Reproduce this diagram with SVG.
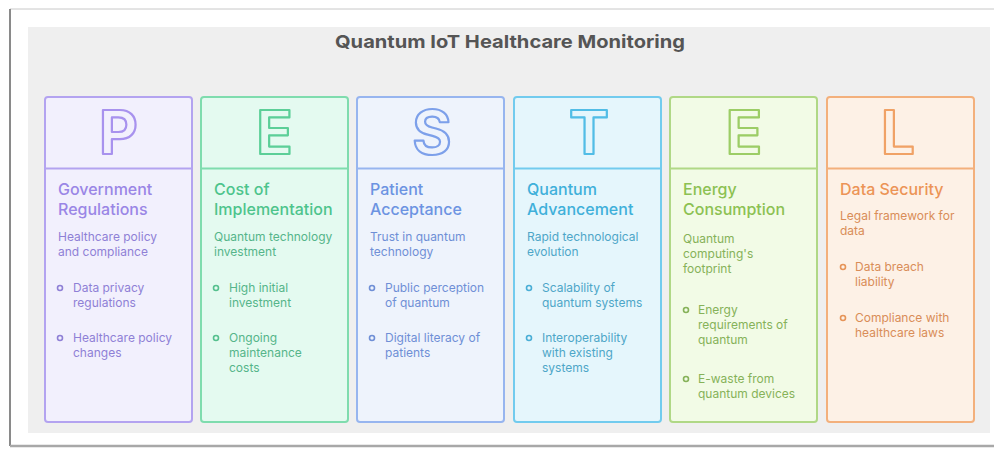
<svg xmlns="http://www.w3.org/2000/svg" width="994" height="451" viewBox="0 0 994 451">
<style>
.t{font-family:Inter,"Liberation Sans",sans-serif;font-size:16px;font-weight:500}
.b{font-family:Inter,"Liberation Sans",sans-serif;font-size:12px}
.L{font-family:Inter,"Liberation Sans",sans-serif;font-size:60px;font-weight:700;stroke-width:2.2;text-anchor:middle;stroke-linejoin:round}
.box{stroke-width:2}
.dot{fill:none;stroke-width:1.6}
.p .box,.p .dv{stroke:#b3a3f0}.p .box{fill:#f2f0fd}.p .L{fill:#f2f0fd;stroke:#a892ee}.p text.t{fill:#9a86e6}.p text.b{fill:#8f80d6}.p .dot{stroke:#8f80d6}
.g .box,.g .dv{stroke:#7fdcae}.g .box{fill:#e4faf0}.g .L{fill:#e4faf0;stroke:#5ccf98}.g text.t{fill:#4dc48c}.g text.b{fill:#55b58a}.g .dot{stroke:#55c08e}
.s .box,.s .dv{stroke:#97b5ef}.s .box{fill:#eef3fc}.s .L{fill:#eef3fc;stroke:#7da0ea}.s text.t{fill:#6c93e2}.s text.b{fill:#6f8fd6}.s .dot{stroke:#6f8fd6}
.c .box,.c .dv{stroke:#72cbee}.c .box{fill:#e5f6fc}.c .L{fill:#e5f6fc;stroke:#52bde6}.c text.t{fill:#3fb0da}.c text.b{fill:#4ea6c8}.c .dot{stroke:#4aaed6}
.y .box,.y .dv{stroke:#b0d886}.y .box{fill:#f2fbe6}.y .L{fill:#f2fbe6;stroke:#9ccd66}.y text.t{fill:#8cc152}.y text.b{fill:#86b259}.y .dot{stroke:#86b259}
.o .box,.o .dv{stroke:#f3b07c}.o .box{fill:#fdf1e6}.o .L{fill:#fdf1e6;stroke:#f0a266}.o text.t{fill:#ec9456}.o text.b{fill:#d98d58}.o .dot{stroke:#e69458}
.dv{stroke-width:2}
</style>
<rect width="994" height="451" fill="#ffffff"/>
<g id="frame">
<path d="M10 446 V9 H994" fill="none" stroke="#c8c8c8" stroke-width="1"/>
<path d="M10 9 V446" stroke="#8a8a8a" stroke-width="2"/>
<path d="M10 446 H994" stroke="#a8a8a8" stroke-width="2.5"/>
<rect x="28" y="27" width="962" height="406" fill="#efefef"/>
</g>
<text x="510" y="48" text-anchor="middle" font-family="Inter,'Liberation Sans',sans-serif" font-size="18" font-weight="700" fill="#555555" textLength="350" lengthAdjust="spacingAndGlyphs">Quantum IoT Healthcare Monitoring</text>

<g id="col-P" class="p">
<rect class="box" x="45" y="97" width="147" height="325" rx="3"/>
<line class="dv" x1="45" y1="168.5" x2="192" y2="168.5"/>
<text class="L" x="118.5" y="154">P</text>
<text class="t" x="58" y="195">Government</text><text class="t" x="58" y="215">Regulations</text>
<text class="b" x="58" y="241">Healthcare policy</text><text class="b" x="58" y="256">and compliance</text>
<circle class="dot" cx="60" cy="288" r="2.5"/>
<text class="b" x="73" y="292">Data privacy</text><text class="b" x="73" y="307">regulations</text>
<circle class="dot" cx="60" cy="338" r="2.5"/>
<text class="b" x="73" y="342">Healthcare policy</text><text class="b" x="73" y="357">changes</text>
</g>

<g id="col-E1" class="g">
<rect class="box" x="201" y="97" width="147" height="325" rx="3"/>
<line class="dv" x1="201" y1="168.5" x2="348" y2="168.5"/>
<text class="L" x="274.5" y="154">E</text>
<text class="t" x="214" y="195">Cost of</text><text class="t" x="214" y="215">Implementation</text>
<text class="b" x="214" y="241">Quantum technology</text><text class="b" x="214" y="256">investment</text>
<circle class="dot" cx="216" cy="288" r="2.5"/>
<text class="b" x="229" y="292">High initial</text><text class="b" x="229" y="307">investment</text>
<circle class="dot" cx="216" cy="338" r="2.5"/>
<text class="b" x="229" y="342">Ongoing</text><text class="b" x="229" y="357">maintenance</text><text class="b" x="229" y="372">costs</text>
</g>

<g id="col-S" class="s">
<rect class="box" x="357" y="97" width="147" height="325" rx="3"/>
<line class="dv" x1="357" y1="168.5" x2="504" y2="168.5"/>
<text class="L" x="432" y="154">S</text>
<text class="t" x="370" y="195">Patient</text><text class="t" x="370" y="215">Acceptance</text>
<text class="b" x="370" y="241">Trust in quantum</text><text class="b" x="370" y="256">technology</text>
<circle class="dot" cx="372" cy="288" r="2.5"/>
<text class="b" x="385" y="292">Public perception</text><text class="b" x="385" y="307">of quantum</text>
<circle class="dot" cx="372" cy="338" r="2.5"/>
<text class="b" x="385" y="342">Digital literacy of</text><text class="b" x="385" y="357">patients</text>
</g>

<g id="col-T" class="c">
<rect class="box" x="514" y="97" width="147" height="325" rx="3"/>
<line class="dv" x1="514" y1="168.5" x2="661" y2="168.5"/>
<text class="L" x="589" y="154">T</text>
<text class="t" x="527" y="195">Quantum</text><text class="t" x="527" y="215">Advancement</text>
<text class="b" x="527" y="241">Rapid technological</text><text class="b" x="527" y="256">evolution</text>
<circle class="dot" cx="529" cy="288" r="2.5"/>
<text class="b" x="542" y="292">Scalability of</text><text class="b" x="542" y="307">quantum systems</text>
<circle class="dot" cx="529" cy="338" r="2.5"/>
<text class="b" x="542" y="342">Interoperability</text><text class="b" x="542" y="357">with existing</text><text class="b" x="542" y="372">systems</text>
</g>

<g id="col-E2" class="y">
<rect class="box" x="670" y="97" width="147" height="325" rx="3"/>
<line class="dv" x1="670" y1="168.5" x2="817" y2="168.5"/>
<text class="L" x="744" y="154">E</text>
<text class="t" x="683" y="195">Energy</text><text class="t" x="683" y="215">Consumption</text>
<text class="b" x="683" y="243">Quantum</text><text class="b" x="683" y="258">computing's</text><text class="b" x="683" y="273">footprint</text>
<circle class="dot" cx="686" cy="310" r="2.5"/>
<text class="b" x="698" y="314">Energy</text><text class="b" x="698" y="329">requirements of</text><text class="b" x="698" y="344">quantum</text>
<circle class="dot" cx="686" cy="379" r="2.5"/>
<text class="b" x="698" y="383">E-waste from</text><text class="b" x="698" y="398">quantum devices</text>
</g>

<g id="col-L" class="o">
<rect class="box" x="827" y="97" width="147" height="325" rx="3"/>
<line class="dv" x1="827" y1="168.5" x2="974" y2="168.5"/>
<text class="L" x="898" y="154">L</text>
<text class="t" x="840" y="195">Data Security</text>
<text class="b" x="840" y="220">Legal framework for</text><text class="b" x="840" y="235">data</text>
<circle class="dot" cx="843" cy="267" r="2.5"/>
<text class="b" x="855" y="271">Data breach</text><text class="b" x="855" y="286">liability</text>
<circle class="dot" cx="843" cy="318" r="2.5"/>
<text class="b" x="855" y="322">Compliance with</text><text class="b" x="855" y="337">healthcare laws</text>
</g>
<g id="connectors"/>
</svg>
